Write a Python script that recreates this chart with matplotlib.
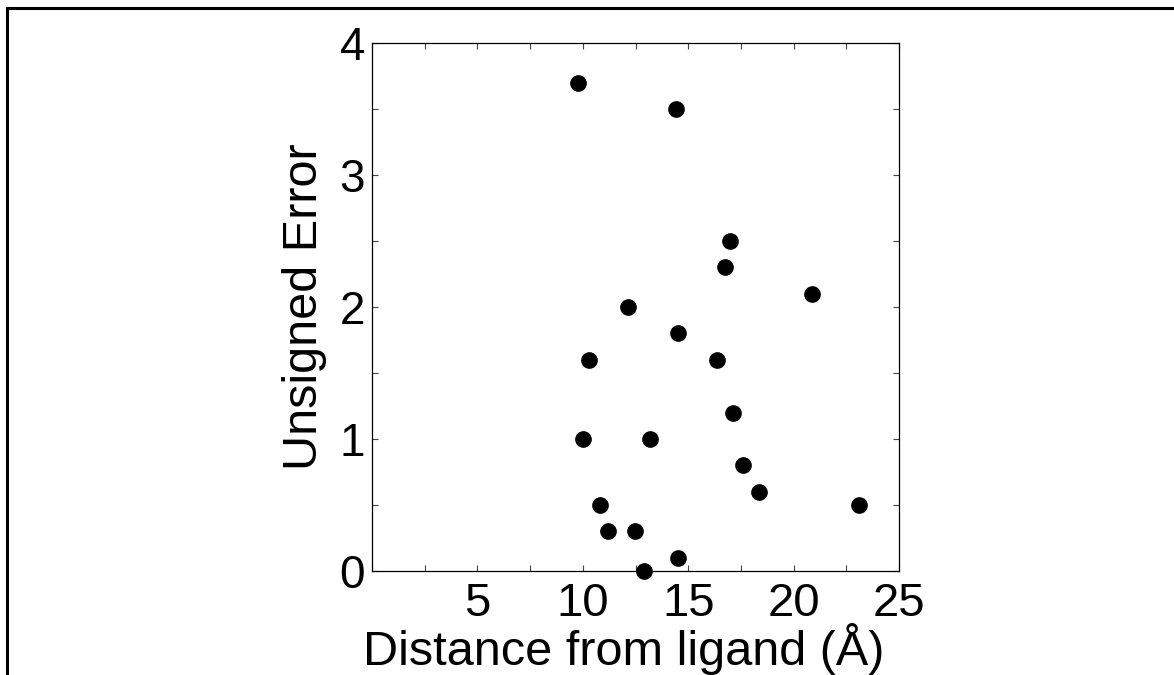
import numpy as np
import matplotlib
matplotlib.use("Agg")
import matplotlib.pyplot as plt
from matplotlib.patches import Rectangle
from matplotlib.ticker import MultipleLocator

plt.rcParams['font.family'] = ['Liberation Sans', 'DejaVu Sans']

# distance from ligand (Angstrom) and unsigned error
distance = [9.78, 14.42, 16.97, 16.76, 20.86, 12.14, 14.5, 10.29, 16.35, 17.14,
            10.0, 13.2, 17.58, 18.33, 10.83, 23.1, 11.19, 12.46, 14.5, 12.88]
error = [3.7, 3.5, 2.5, 2.3, 2.1, 2.0, 1.8, 1.6, 1.6, 1.2,
         1.0, 1.0, 0.8, 0.6, 0.5, 0.5, 0.3, 0.3, 0.1, 0.0]

x_ticks = [5, 10, 15, 20, 25]
y_ticks = [0, 1, 2, 3, 4]

fig = plt.figure(figsize=(11.74, 6.75), dpi=100)
ax = fig.add_axes([0.3169, 0.1541, 0.449, 0.7822])

ax.plot(distance, error, 'o', color='black', markersize=11, clip_on=False, zorder=3)

ax.set_xlim(0, 25)
ax.set_ylim(0, 4)
ax.set_xticks(x_ticks)
ax.set_yticks(y_ticks)
ax.xaxis.set_minor_locator(MultipleLocator(2.5))
ax.yaxis.set_minor_locator(MultipleLocator(0.5))
ax.tick_params(which='both', direction='in', top=True, right=True,
               length=4, width=0.8, color='#444444')
ax.tick_params(axis='x', labelsize=34, pad=8)
ax.tick_params(axis='y', labelsize=33, pad=5)
for s in ax.spines.values():
    s.set_linewidth(0.9)

ax.set_xlabel('Distance from ligand (Å)', fontsize=35, labelpad=-2)
ax.xaxis.label.set_x(0.478)
ax.set_ylabel('Unsigned Error', fontsize=35, labelpad=9)

# outer frame of the figure, cut at the right and bottom
fig.patches.append(Rectangle((7 / 1174, -0.05), 1.2, 1 - 8 / 675 + 0.05,
                             transform=fig.transFigure, fill=False,
                             edgecolor='black', linewidth=2.2))

fig.savefig('out.png', dpi=100)
